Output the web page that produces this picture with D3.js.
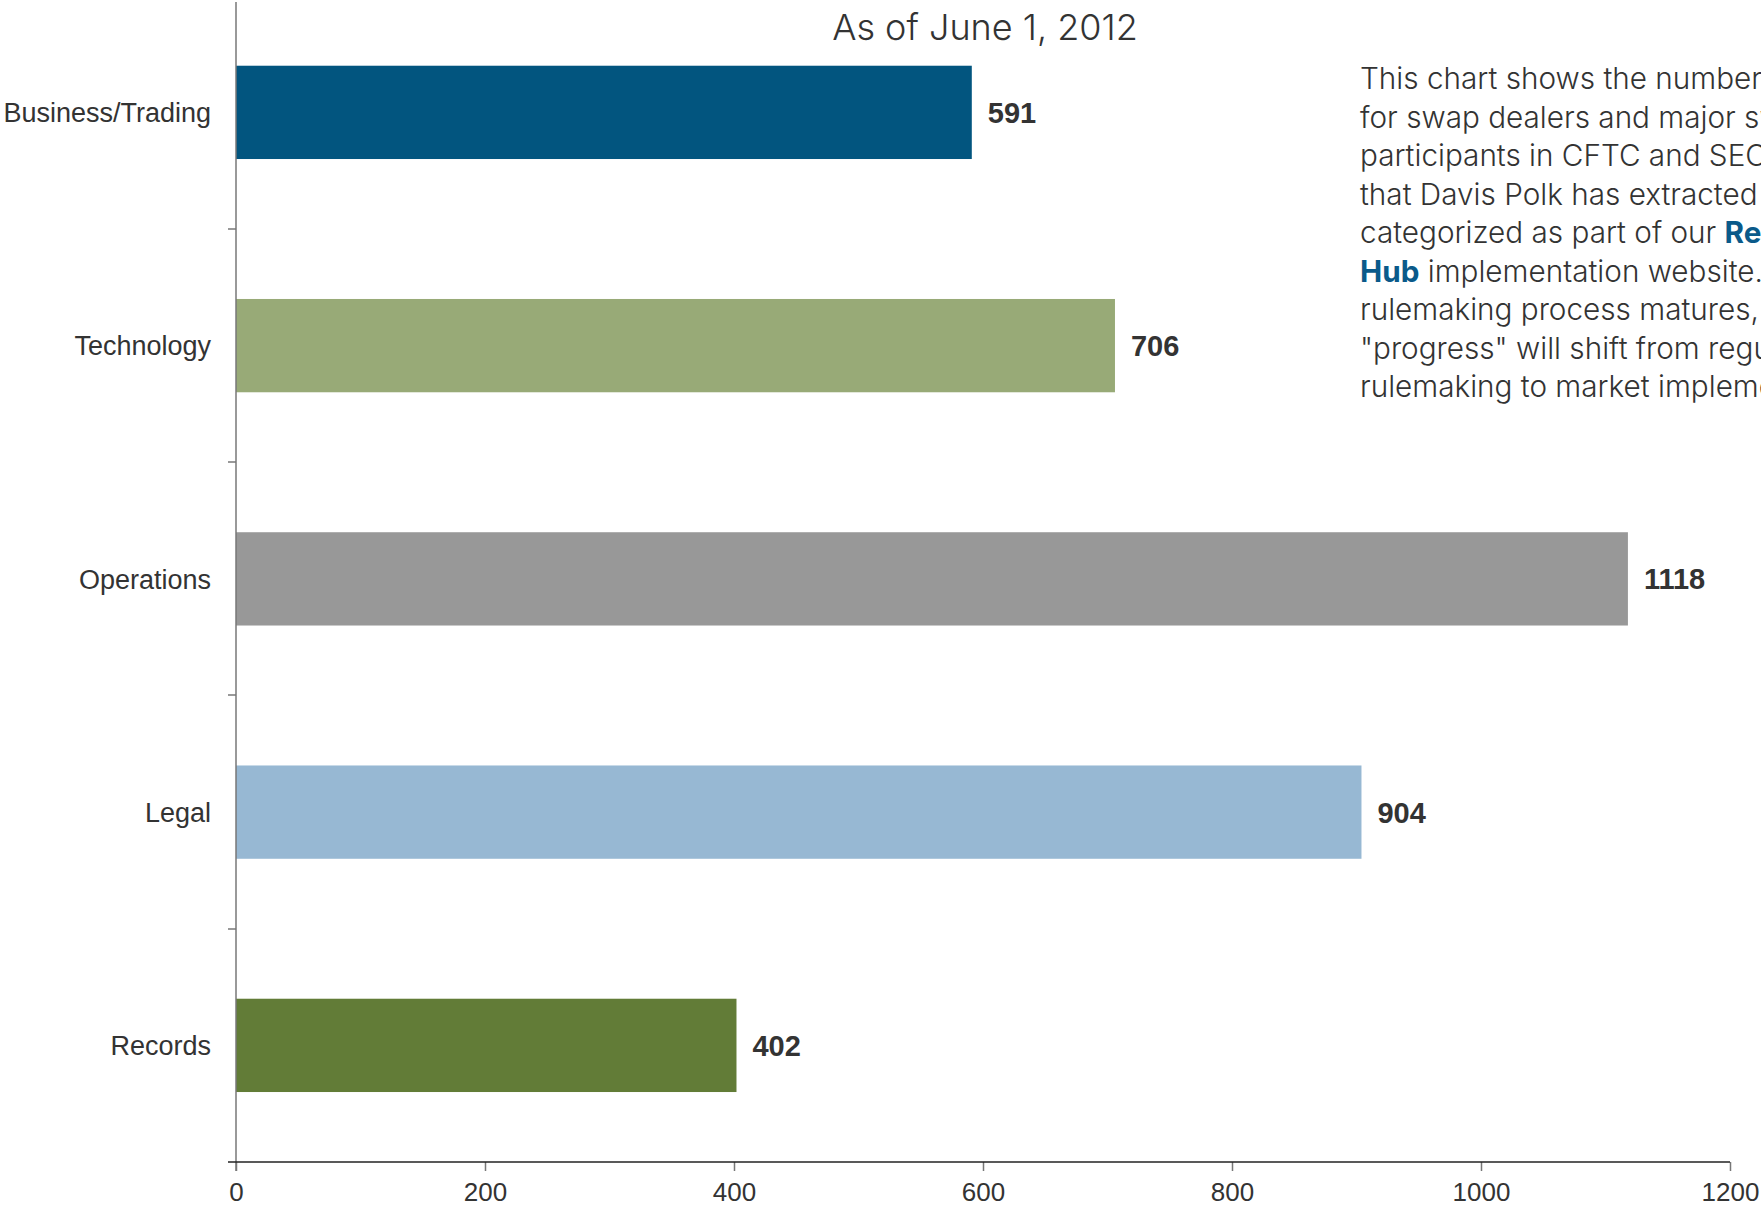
<!DOCTYPE html>
<html>
<head>
  <meta charset="utf-8">
  <title>Requirements by category</title>
  <style>
    body { margin: 0; background: #fff; }
    svg { display: block; }
    .cat { font-family: "Liberation Sans", Arial, sans-serif; font-size: 27px; fill: #333; }
    .val { font-family: "Liberation Sans", Arial, sans-serif; font-size: 29px; font-weight: bold; fill: #333; }
    .title, .note { font-family: Inter, "Open Sans", sans-serif; font-weight: 300; fill: #333; }
    .axis--x text { font-family: "Liberation Sans", Arial, sans-serif; font-size: 26px; fill: #333; }
  </style>
</head>
<body>
  <svg width="1761" height="1208"></svg>
  <script src="https://cdn.jsdelivr.net/npm/d3@7"></script>
  <script>
    // data
    var categories = ["Business/Trading", "Technology", "Operations", "Legal", "Records"];
    var values = [591, 706, 1118, 904, 402];
    var colors = ["#02557f", "#98aa77", "#989898", "#97b8d3", "#627c37"];
    var xTicks = [0, 200, 400, 600, 800, 1000, 1200];
    var title = "As of June 1, 2012";
    // each line is a list of [text, bold?]
    var noteLines = [
      [["This chart shows the number of requirements", false]],
      [["for swap dealers and major swap", false]],
      [["participants in CFTC and SEC rules", false]],
      [["that Davis Polk has extracted and", false]],
      [["categorized as part of our ", false], ["Regulatory", true]],
      [["Hub", true], [" implementation website. As the", false]],
      [["rulemaking process matures, the focus of", false]],
      [["\"progress\" will shift from regulatory", false]],
      [["rulemaking to market implementation.", false]]
    ];

    var svg = d3.select("svg");
    var axisY = 1162;

    var x = d3.scaleLinear().domain([0, 1200]).range([236, 1730]);
    var y = d3.scaleBand()
      .domain(categories)
      .range([axisY - 5 * 233.25, axisY])
      .paddingInner(0.6)
      .paddingOuter(0.3);
    var step = y.step();

    // bars
    svg.selectAll(".bar")
      .data(categories)
      .enter().append("rect")
      .attr("class", "bar")
      .attr("x", x(0))
      .attr("y", function(d) { return y(d); })
      .attr("width", function(d, i) { return x(values[i]) - x(0); })
      .attr("height", y.bandwidth())
      .attr("fill", function(d, i) { return colors[i]; });

    // value labels
    svg.selectAll(".val")
      .data(categories)
      .enter().append("text")
      .attr("class", "val")
      .attr("x", function(d, i) { return x(values[i]) + 16; })
      .attr("y", function(d) { return y(d) + y.bandwidth() / 2; })
      .attr("dy", "0.36em")
      .text(function(d, i) { return values[i]; });

    // category labels
    svg.selectAll(".cat")
      .data(categories)
      .enter().append("text")
      .attr("class", "cat")
      .attr("x", 211)
      .attr("y", function(d) { return y(d) + y.bandwidth() / 2; })
      .attr("dy", "0.36em")
      .attr("text-anchor", "end")
      .text(function(d) { return d; });

    // y axis line + ticks at band boundaries
    svg.append("line")
      .attr("x1", x(0)).attr("x2", x(0))
      .attr("y1", 2).attr("y2", axisY + 9)
      .attr("stroke", "#777").attr("stroke-width", 1.5);
    svg.selectAll(".ytick")
      .data(categories.slice(1))
      .enter().append("line")
      .attr("class", "ytick")
      .attr("x1", x(0) - 8).attr("x2", x(0))
      .attr("y1", function(d) { return Math.round(y(d) - step * 0.3); })
      .attr("y2", function(d) { return Math.round(y(d) - step * 0.3); })
      .attr("stroke", "#777").attr("stroke-width", 1.5);

    // x axis
    var gx = svg.append("g")
      .attr("class", "axis axis--x")
      .attr("transform", "translate(0," + axisY + ")")
      .call(d3.axisBottom(x).tickValues(xTicks).tickFormat(d3.format("d")).tickSize(9).tickPadding(12));
    gx.select(".domain").remove();
    gx.selectAll(".tick line").attr("stroke", "#777").attr("stroke-width", 1.5);
    gx.selectAll(".tick text").attr("font-size", null).attr("font-family", null).attr("fill", "#333");
    svg.append("line")
      .attr("x1", x(0) - 8).attr("x2", x(1200))
      .attr("y1", axisY).attr("y2", axisY)
      .attr("stroke", "#222").attr("stroke-width", 1.5);

    // title
    svg.append("text")
      .attr("class", "title")
      .attr("x", 985)
      .attr("y", 40)
      .attr("text-anchor", "middle")
      .attr("font-size", 36)
      .text(title);

    // note text at right (runs past the right edge, as in the original)
    var note = svg.append("text")
      .attr("class", "note")
      .attr("font-size", 29.7);
    noteLines.forEach(function(line, i) {
      line.forEach(function(seg, j) {
        var t = note.append("tspan").text(seg[0]);
        if (j === 0) t.attr("x", 1360).attr("y", 89 + i * 38.5);
        if (seg[1]) t.attr("font-weight", 700).attr("fill", "#0a5a8a");
      });
    });
  </script>
</body>
</html>
